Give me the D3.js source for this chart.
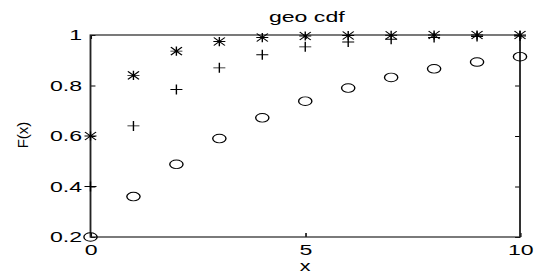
<!DOCTYPE html>
<html>
<head>
<meta charset="utf-8">
<script src="https://cdn.jsdelivr.net/npm/d3@7"></script>
<style>
  body { margin: 0; background: #fff; }
  svg { display: block; }
  text { font-family: "Liberation Sans", Arial, sans-serif; fill: #000; }
</style>
</head>
<body>
<div id="chart"></div>
<script>
var xs = [0, 1, 2, 3, 4, 5, 6, 7, 8, 9, 10];
var circles = [0.2, 0.36, 0.488, 0.590, 0.672, 0.738, 0.790, 0.832, 0.866, 0.893, 0.914];
var pluses = [0.4, 0.64, 0.784, 0.870, 0.922, 0.953, 0.972, 0.983, 0.990, 0.994, 0.996];
var stars = [0.6, 0.84, 0.936, 0.974, 0.990, 0.996, 0.998, 0.999, 1, 1, 1];
var xTicks = [0, 5, 10];
var yTicks = [0.2, 0.4, 0.6, 0.8, 1];

// the picture is stretched sideways, so draw in a narrower box and stretch it
var sx = 1.54;
var W = 539 / sx, H = 280;
var margin = { top: 35, left: 90.5 / sx, bottom: 43, right: 19 / sx },
    width = W - margin.left - margin.right,
    height = H - margin.top - margin.bottom;

var svg = d3.select("#chart").append("svg")
    .attr("width", 539)
    .attr("height", 280)
    .attr("viewBox", "0 0 " + W + " " + H)
    .attr("preserveAspectRatio", "none")
    .append("g")
    .attr("transform", "translate(" + margin.left + "," + margin.top + ")");

var x = d3.scaleLinear().domain([0, 10]).range([0, width]);
var y = d3.scaleLinear().domain([0.2, 1]).range([height, 0]);

// inward ticks on all four sides
svg.append("g")
    .attr("transform", "translate(0," + height + ")")
    .call(d3.axisBottom(x).tickValues(xTicks).tickSizeInner(-4).tickSizeOuter(0).tickPadding(7).tickFormat(d3.format("d")))
    .call(g => g.select(".domain").remove())
    .selectAll("text").style("font-size", "15px");

svg.append("g")
    .call(d3.axisTop(x).tickValues(xTicks).tickSizeInner(-4).tickSizeOuter(0).tickFormat(""))
    .call(g => g.select(".domain").remove());

svg.append("g")
    .call(d3.axisLeft(y).tickValues(yTicks).tickSizeInner(-3.2).tickSizeOuter(0).tickPadding(5.5).tickFormat(d => d === 1 ? "1" : d3.format(".1f")(d)))
    .call(g => g.select(".domain").remove())
    .selectAll("text").style("font-size", "15px");

svg.append("g")
    .attr("transform", "translate(" + width + ",0)")
    .call(d3.axisRight(y).tickValues(yTicks).tickSizeInner(-3.2).tickSizeOuter(0).tickFormat(""))
    .call(g => g.select(".domain").remove());

svg.selectAll(".tick line").attr("stroke", "#000");

svg.append("rect")
    .attr("width", width)
    .attr("height", height)
    .attr("fill", "none")
    .attr("stroke", "#222")
    .attr("stroke-width", 1.2);

// circle markers
svg.selectAll(".circ")
    .data(xs)
    .enter()
    .append("circle")
    .attr("class", "circ")
    .attr("cx", d => x(d))
    .attr("cy", (d, i) => y(circles[i]))
    .attr("r", 4.3)
    .attr("fill", "none")
    .attr("stroke", "#000")
    .attr("stroke-width", 0.9);

// plus markers
svg.selectAll(".plus")
    .data(xs)
    .enter()
    .append("path")
    .attr("class", "plus")
    .attr("transform", (d, i) => "translate(" + x(d) + "," + y(pluses[i]) + ")")
    .attr("d", "M-3.9,0H3.9M0,-5V5")
    .attr("stroke", "#000")
    .attr("stroke-width", 0.9);

// star markers
svg.selectAll(".star")
    .data(xs)
    .enter()
    .append("path")
    .attr("class", "star")
    .attr("transform", (d, i) => "translate(" + x(d) + "," + y(stars[i]) + ")")
    .attr("d", "M-3.9,0H3.9M0,-4.6V4.6M-3.6,-4L3.6,4M-3.6,4L3.6,-4")
    .attr("stroke", "#000")
    .attr("stroke-width", 0.9);

svg.append("text")
    .attr("x", width / 2 + 1)
    .attr("y", -13)
    .attr("text-anchor", "middle")
    .style("font-size", "15px")
    .text("geo cdf");

svg.append("text")
    .attr("x", width / 2)
    .attr("y", height + 34)
    .attr("text-anchor", "middle")
    .style("font-size", "14px")
    .text("x");

// y label is not stretched in the reference
svg.append("text")
    .attr("transform", "translate(" + (28 / sx - margin.left) + "," + (height / 2 - 1) + ") scale(" + (1 / sx) + ",1) rotate(-90)")
    .attr("text-anchor", "middle")
    .style("font-size", "15px")
    .text("F(x)");
</script>
</body>
</html>
